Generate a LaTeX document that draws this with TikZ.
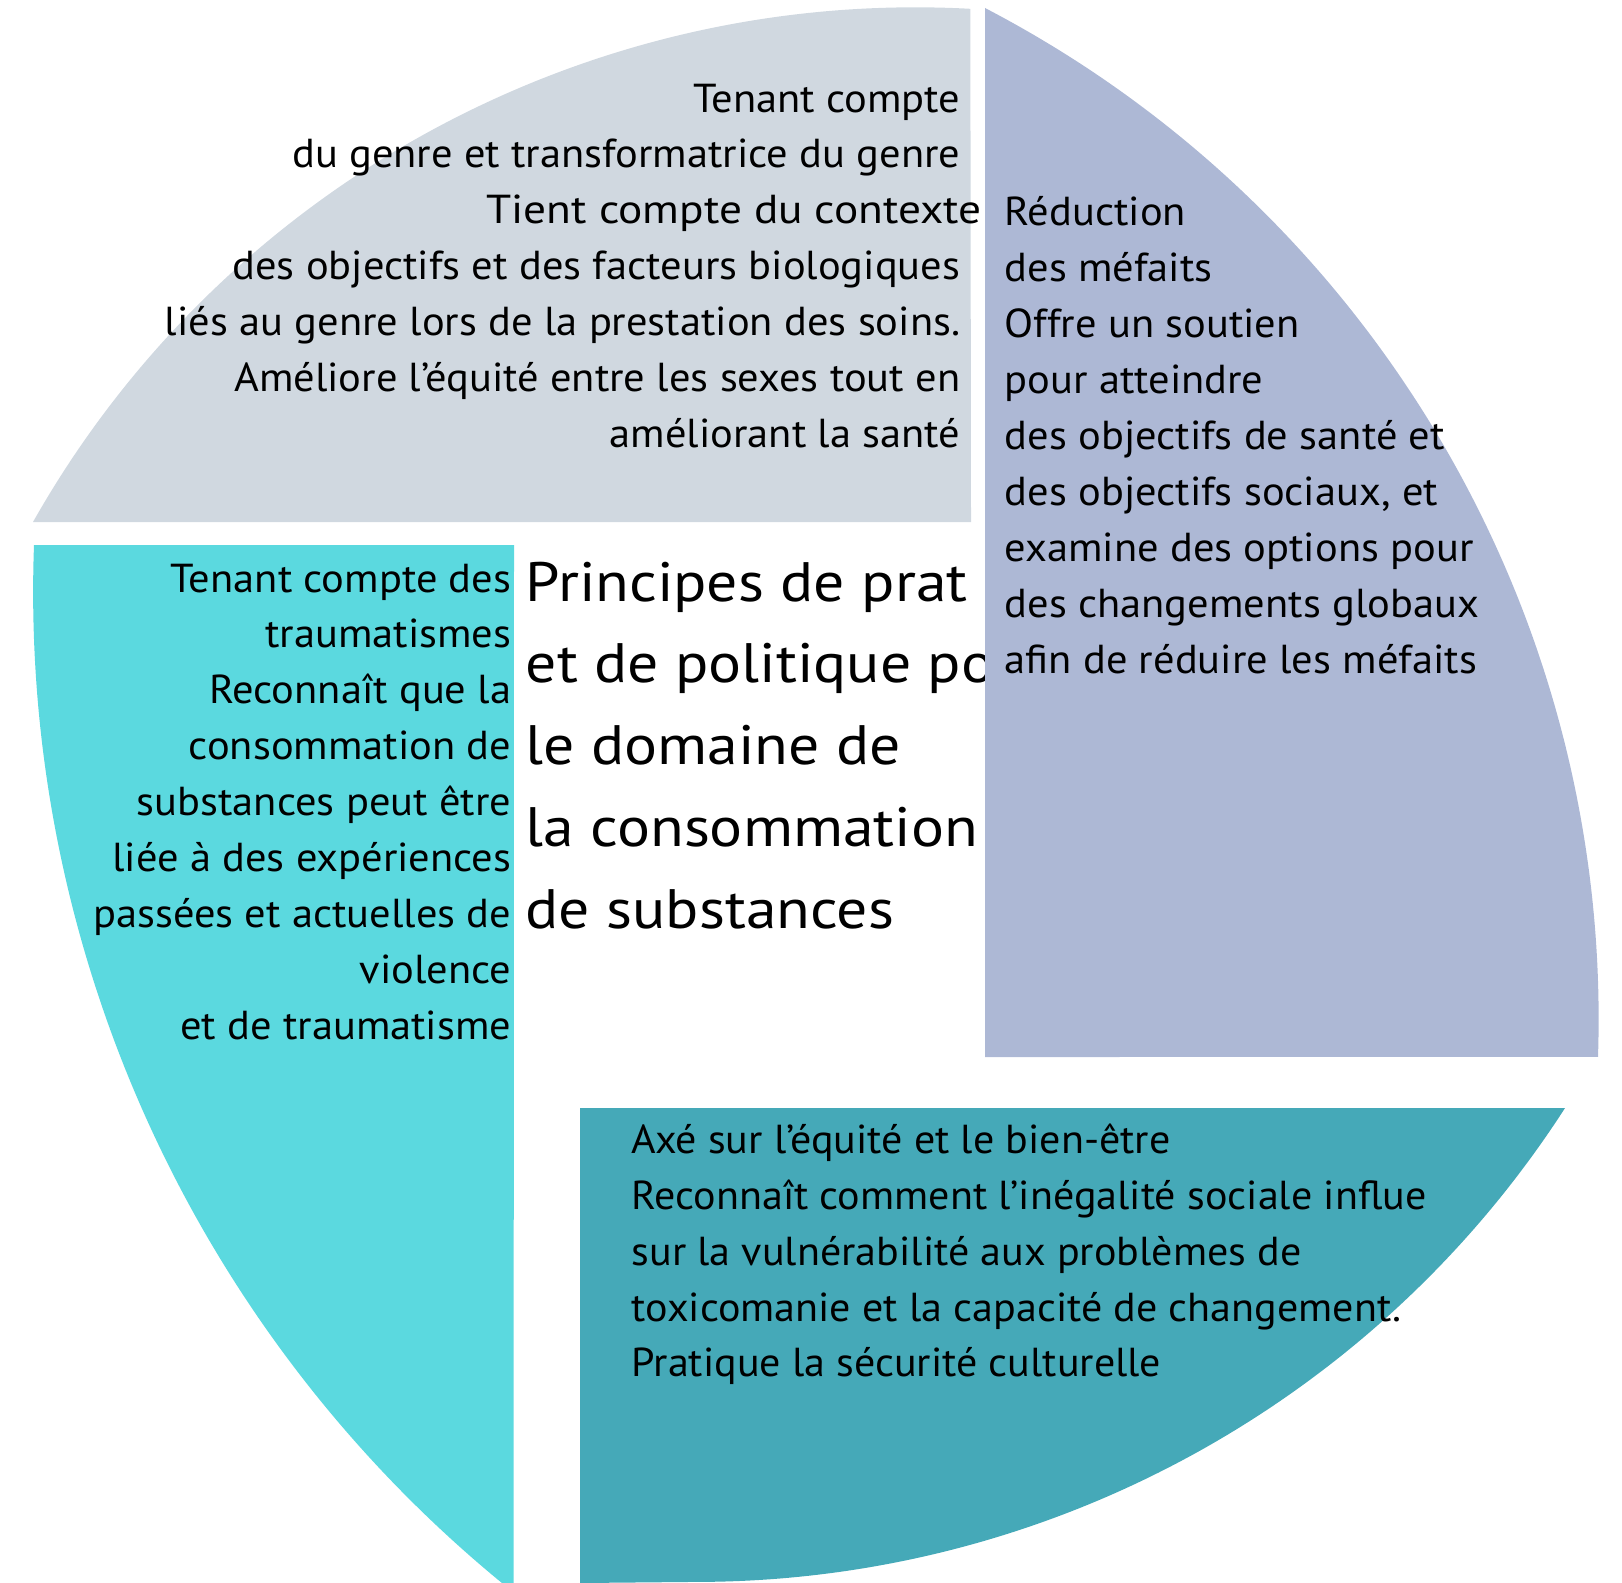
\documentclass[tikz,border=0pt]{standalone}
\usepackage{fontspec}
\setmainfont{PT Sans}
\definecolor{greypiece}{HTML}{D0D8E0}
\definecolor{lavpiece}{HTML}{ADB8D5}
\definecolor{tealpiece}{HTML}{45A9B8}
\definecolor{cyanpiece}{HTML}{5BD9DF}

\begin{document}
\begin{tikzpicture}[
    x=0.01cm, y=-0.01cm,
    bodytext/.style={inner sep=0pt, text=black, font=\fontsize{11.5pt}{15.9pt}\selectfont\addfontfeature{FakeStretch=#1}},
    bodytext/.default=1.05,
    titletext/.style={inner sep=0pt, text=black, align=left, font=\fontsize{15.8pt}{23.25pt}\selectfont\addfontfeature{FakeStretch=1.11}}
]
\useasboundingbox (0,0) rectangle (1622,1582);

\node[titletext, anchor=north west] (title) at (525,561) {Principes de prat\\et de politique po\\le domaine de\\la consommation\\de substances};

\fill[greypiece] (971,522) -- (33,522) arc[start angle=-150.5, end angle=-86.9, radius=1014] -- cycle;
\fill[lavpiece] (985,1057) -- (985,8) arc[start angle=-62.5, end angle=1.9, radius=1140] -- cycle;
\fill[tealpiece] (580,1108) -- (1565,1108) arc[start angle=32.8, end angle=90, radius=1034] -- (580,1583) -- cycle;
\fill[cyanpiece] (514,545) -- (34,545) arc[start angle=182.1, end angle=128.7, radius=1282] -- cycle;

\node[bodytext, anchor=north east, align=right] (gender) at (961,83) {Tenant compte\\du genre et transformatrice du genre\\{\addfontfeature{FakeStretch=1.12}Tient compte du contexte}\kern-6pt\\des objectifs et des facteurs biologiques\\liés au genre lors de la prestation des soins.\\Améliore l’équité entre les sexes tout en\\améliorant la santé};
\node[bodytext, anchor=north west, align=left] (harm) at (1004,196) {Réduction\\des méfaits\\Offre un soutien\\pour atteindre\\des objectifs de santé et\\des objectifs sociaux, et\\examine des options pour\\des changements globaux\\afin de réduire les méfaits};
\node[bodytext, anchor=north east, align=right] (trauma) at (512,563) {Tenant compte des\\traumatismes\\Reconnaît que la\\consommation de\\substances peut être\\liée à des expériences\\passées et actuelles de\\violence\\et de traumatisme};
\node[bodytext=1.04, anchor=north west, align=left] (equity) at (631,1123) {Axé sur l’équité et le bien-être\\Reconnaît comment l’inégalité sociale influe\\sur la vulnérabilité aux problèmes de\\toxicomanie et la capacité de changement.\\Pratique la sécurité culturelle};

\end{tikzpicture}
\end{document}
